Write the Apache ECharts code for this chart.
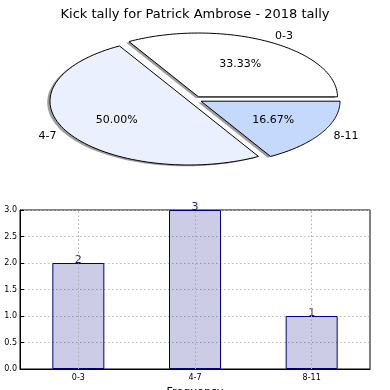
<!DOCTYPE html>
<html><head><meta charset="utf-8">
<script src="https://cdn.jsdelivr.net/npm/echarts@6/dist/echarts.min.js"></script>
<style>html,body{margin:0;padding:0;background:#fff}#c{width:390px;height:390px}</style>
</head><body><div id="c"></div>
<script>
var title = 'Kick tally for Patrick Ambrose - 2018 tally';
var categories = ['0-3', '4-7', '8-11'];
var values = [2, 3, 1];
var pieColors = ['#ffffff', '#eaf0fd', '#c5d9fd'];
var yTicks = [0, 0.5, 1.0, 1.5, 2.0, 2.5, 3.0];

var total = values.reduce(function (a, b) { return a + b; }, 0);
var FONT = 'DejaVu Sans';
var explode = 0.05, shadowOff = -0.02;

function renderWedge(params, api) {
  var i = params.dataIndex;
  var before = 0;
  for (var k = 0; k < i; k++) before += values[k];
  var t1 = before / total * 2 * Math.PI;
  var t2 = (before + values[i]) / total * 2 * Math.PI;
  var mid = (t1 + t2) / 2;
  var cx = explode * Math.cos(mid), cy = explode * Math.sin(mid);
  function pts(ox, oy) {
    var p = [api.coord([cx + ox, cy + oy])];
    var n = 80;
    for (var j = 0; j <= n; j++) {
      var t = t1 + (t2 - t1) * j / n;
      p.push(api.coord([cx + ox + Math.cos(t), cy + oy + Math.sin(t)]));
    }
    return p;
  }
  var pct = (values[i] / total * 100).toFixed(2) + '%';
  var pp = api.coord([cx + 0.6 * Math.cos(mid), cy + 0.6 * Math.sin(mid)]);
  var lp = api.coord([cx + 1.1 * Math.cos(mid), cy + 1.1 * Math.sin(mid)]);
  return {
    type: 'group',
    children: [
      { type: 'polygon', z2: 1, shape: { points: pts(shadowOff, shadowOff) },
        style: { fill: 'rgba(60,60,60,0.5)', stroke: null } },
      { type: 'polygon', z2: 10, shape: { points: pts(0, 0) },
        style: { fill: pieColors[i], stroke: '#000', lineWidth: 1 } },
      { type: 'text', z2: 20, x: pp[0], y: pp[1],
        style: { text: pct, fontFamily: FONT, fontSize: 11, fill: '#000', align: 'center', verticalAlign: 'middle' } },
      { type: 'text', z2: 20, x: lp[0], y: lp[1],
        style: { text: categories[i], fontFamily: FONT, fontSize: 11, fill: '#000',
          align: Math.cos(mid) > 0 ? 'left' : 'right', verticalAlign: 'middle' } }
    ]
  };
}

var chart = echarts.init(document.getElementById('c'));
chart.setOption({
  animation: false,
  title: { text: title, left: 'center', top: 3,
    textStyle: { fontFamily: FONT, fontSize: 13, fontWeight: 'normal', color: '#000' } },
  grid: [
    { left: 56, width: 278, top: 35.8, height: 127.6, show: false, outerBoundsMode: 'none', containLabel: false },
    { left: 20, right: 20, top: 210, bottom: 21, show: true, borderColor: '#000', borderWidth: 1,
      backgroundColor: 'transparent', outerBoundsMode: 'none', containLabel: false }
  ],
  xAxis: [
    { gridIndex: 0, type: 'value', min: -1, max: 1, show: false },
    { gridIndex: 1, type: 'category', data: categories,
      axisLine: { lineStyle: { color: '#000' } },
      axisTick: { inside: true, alignWithLabel: true, length: 4, lineStyle: { color: '#000' } },
      axisLabel: { fontFamily: FONT, fontSize: 8, color: '#000', margin: 5 },
      name: 'Frequency', nameLocation: 'middle', nameGap: 18,
      nameTextStyle: { fontFamily: FONT, fontSize: 11, color: '#000' },
      splitLine: { show: false } }
  ],
  yAxis: [
    { gridIndex: 0, type: 'value', min: -1, max: 1, show: false },
    { gridIndex: 1, type: 'value', min: yTicks[0], max: yTicks[yTicks.length - 1], interval: yTicks[1] - yTicks[0],
      axisLine: { show: true, lineStyle: { color: '#000' } },
      axisTick: { show: true, inside: true, length: 4, lineStyle: { color: '#000' } },
      axisLabel: { fontFamily: FONT, fontSize: 8, color: '#000', margin: 3,
        formatter: function (v) { return v.toFixed(1); } },
      splitLine: { show: true, lineStyle: { color: '#bbbbbb', type: [1.5, 2.5], width: 1 } } }
  ],
  series: [
    { type: 'custom', xAxisIndex: 0, yAxisIndex: 0, renderItem: renderWedge,
      data: values, clip: false, silent: true },
    { type: 'bar', xAxisIndex: 1, yAxisIndex: 1, data: values, barWidth: 52,
      itemStyle: { color: 'rgba(0,0,128,0.2)', borderColor: '#000080', borderWidth: 1 },
      label: { show: true, position: 'top', distance: -3, fontFamily: FONT, fontSize: 11, color: '#1c1c78' },
      markLine: { silent: true, symbol: 'none', label: { show: false },
        lineStyle: { color: '#aaaaaa', type: [1.5, 2.5], width: 1 },
        data: categories.map(function (c) { return { xAxis: c }; }) } }
  ]
});
</script></body></html>
